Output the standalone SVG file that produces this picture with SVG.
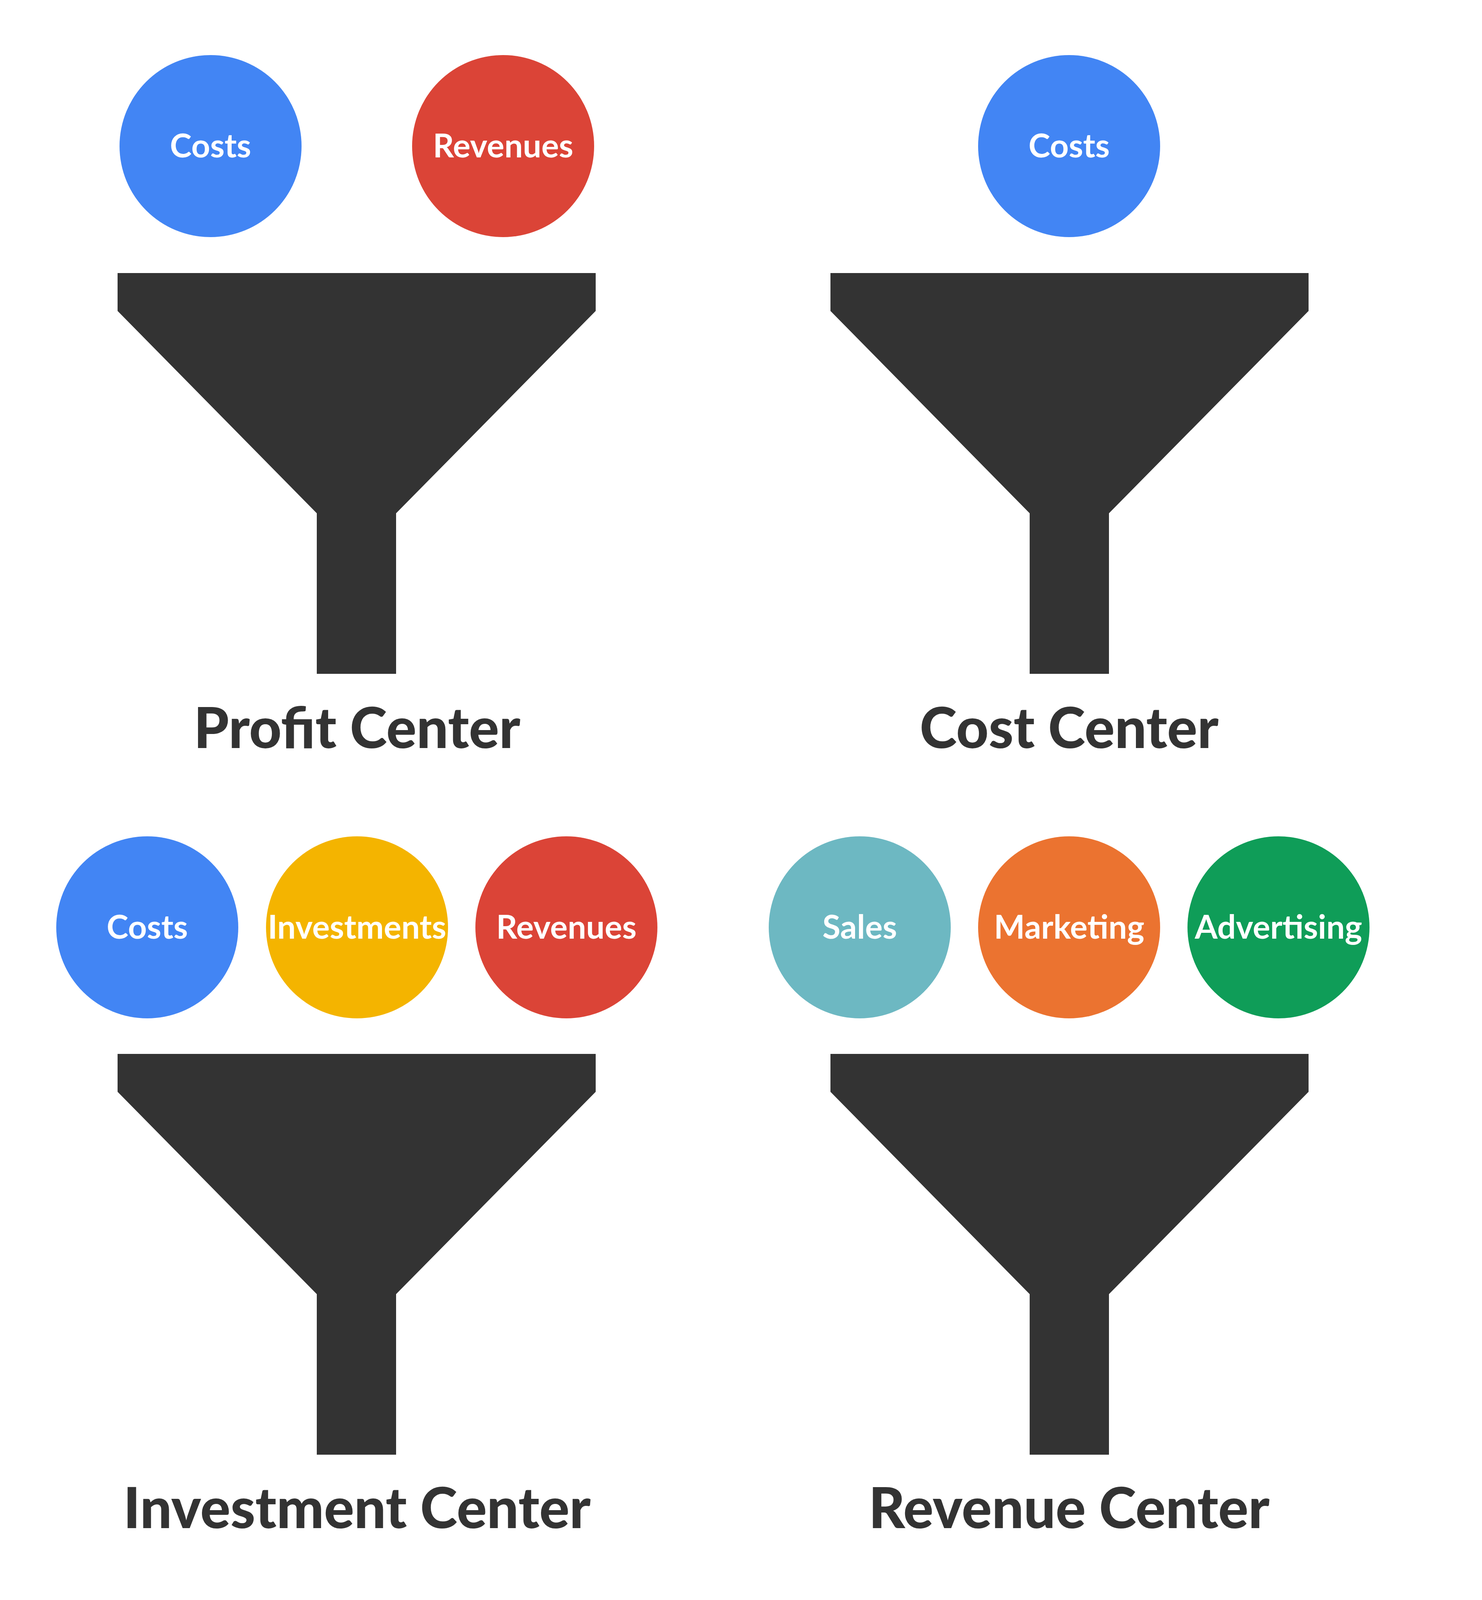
<svg xmlns="http://www.w3.org/2000/svg" width="3794" height="4258" viewBox="0 0 3794 4258">
<style>
.f{fill:#333333}
.l{font-family:Lato,"Open Sans",sans-serif;font-weight:700;font-size:84px;fill:#ffffff;text-anchor:middle}
.t{font-family:Lato,"Open Sans",sans-serif;font-weight:900;font-size:144px;fill:#333333;text-anchor:middle}
</style>
<defs>
<path id="fun" d="M0 0H1224V97L713 615V1026H510V615L0 97Z"/>
</defs>
<rect width="3794" height="4258" fill="#fff"/>
<g id="profit">
<circle cx="539" cy="374" r="233" fill="#4285F4"/><text class="l" x="539" y="403">Costs</text>
<circle cx="1288" cy="374" r="233" fill="#DB4437"/><text class="l" x="1288" y="403">Revenues</text>
<use href="#fun" class="f" x="301" y="699"/>
<text class="t" x="914" y="1915">Profit Center</text>
</g>
<g id="cost">
<circle cx="2737" cy="374" r="233" fill="#4285F4"/><text class="l" x="2737" y="403">Costs</text>
<use href="#fun" class="f" x="2126" y="699"/>
<text class="t" x="2737" y="1915">Cost Center</text>
</g>
<g id="investment">
<circle cx="377" cy="2374" r="233" fill="#4285F4"/><text class="l" x="377" y="2403">Costs</text>
<circle cx="914" cy="2374" r="233" fill="#F4B400"/><text class="l" x="914" y="2403">Investments</text>
<circle cx="1450" cy="2374" r="233" fill="#DB4437"/><text class="l" x="1450" y="2403">Revenues</text>
<use href="#fun" class="f" x="301" y="2698"/>
<text class="t" x="914" y="3912">Investment Center</text>
</g>
<g id="revenue">
<circle cx="2201" cy="2374" r="233" fill="#6DB8C2"/><text class="l" x="2201" y="2403">Sales</text>
<circle cx="2737" cy="2374" r="233" fill="#EB7330"/><text class="l" x="2737" y="2403">Marketing</text>
<circle cx="3273" cy="2374" r="233" fill="#0F9D58"/><text class="l" x="3273" y="2403">Advertising</text>
<use href="#fun" class="f" x="2126" y="2698"/>
<text class="t" x="2737" y="3912">Revenue Center</text>
</g>
<g id="connectors"/>
</svg>
